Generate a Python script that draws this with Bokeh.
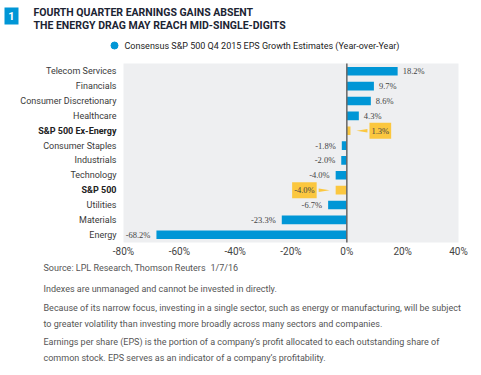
from bokeh.plotting import figure
from bokeh.models import ColumnDataSource, LabelSet, Label, Range1d
from bokeh.core.properties import value
from bokeh.embed import file_html
from bokeh.resources import INLINE

categories = ["Telecom Services", "Financials", "Consumer Discretionary", "Healthcare",
              "S&P 500 Ex-Energy", "Consumer Staples", "Industrials", "Technology",
              "S&P 500", "Utilities", "Materials", "Energy"]
values = [18.2, 9.7, 8.6, 4.3, 1.3, -1.8, -2.0, -4.0, -4.0, -6.7, -23.3, -68.2]
highlight = [False, False, False, False, True, False, False, False, True, False, False, False]
tick_values = [-80, -60, -40, -20, 0, 20, 40]
tick_labels = ["-80%", "-60%", "-40%", "-20%", "0%", "20%", "40%"]

title_lines = ["FOURTH QUARTER EARNINGS GAINS ABSENT",
               "THE ENERGY DRAG MAY REACH MID-SINGLE-DIGITS"]
legend_text = "Consensus S&P 500 Q4 2015 EPS Growth Estimates (Year-over-Year)"
source_text = "Source: LPL Research, Thomson Reuters"
date_text = "1/7/16"
footnotes = [
    "Indexes are unmanaged and cannot be invested in directly.",
    "Because of its narrow focus, investing in a single sector, such as energy or manufacturing, will be subject",
    "to greater volatility than investing more broadly across many sectors and companies.",
    "Earnings per share (EPS) is the portion of a company\u2019s profit allocated to each outstanding share of",
    "common stock. EPS serves as an indicator of a company\u2019s profitability.",
]

BLUE = "#0096d6"
YELLOW = "#fbc73f"
BG = "#eeeff1"
SANS = "Roboto"
SERIF = "Liberation Serif"

W, H = 481, 375
FL, FT, FW, FH = 123, 63, 335, 179          # chart area inside the canvas (px)
XMIN, XMAX = -80, 40
n = len(categories)
ypos = [n - 1 - i for i in range(n)]
YBOT, YTOP = -0.52, n - 0.48
pxu = FW / (XMAX - XMIN)
pyu = FH / (YTOP - YBOT)

x0 = XMIN - FL / pxu
x1 = XMIN + (W - FL) / pxu
y1 = YTOP + FT / pyu
y0 = YTOP - (H - FT) / pyu

def dx(px):   # canvas px -> data x
    return XMIN + (px - FL) / pxu

def dy(py):   # canvas px (from top) -> data y
    return YTOP - (py - FT) / pyu

p = figure(width=W, height=H, output_backend="svg", toolbar_location=None,
           x_range=Range1d(x0, x1), y_range=Range1d(y0, y1),
           min_border=0, x_axis_location=None, y_axis_location=None)
p.background_fill_color = "white"
p.border_fill_color = "white"
p.outline_line_color = None
p.grid.grid_line_color = None

# chart background
p.quad(left=XMIN, right=XMAX, bottom=YBOT, top=YTOP, fill_color=BG, line_color=None)

colors = [YELLOW if h else BLUE for h in highlight]
src = ColumnDataSource(dict(y=ypos, v=values, c=colors))
p.hbar(y="y", left=0, right="v", height=0.58, fill_color="c", line_color=None, source=src)
p.segment(x0=[0], y0=[YBOT], x1=[0], y1=[YTOP], line_color="#666666", line_width=1.5)

# x tick labels
p.text(x=tick_values, y=[YBOT] * len(tick_values), text=tick_labels, y_offset=3,
       text_align="center", text_baseline="top", text_font=value(SANS),
       text_font_size="10px", text_color="#444444")

# value labels for normal rows
for pos, align, off in [(True, "left", 5), (False, "right", -6)]:
    idx = [i for i in range(n) if not highlight[i] and (values[i] >= 0) == pos]
    s = ColumnDataSource(dict(y=[ypos[i] for i in idx], v=[values[i] for i in idx],
                              lab=["%.1f%%" % values[i] for i in idx]))
    p.add_layout(LabelSet(x="v", y="y", text="lab", source=s, x_offset=off,
                          text_align=align, text_baseline="middle",
                          text_font=SERIF, text_font_size="8.5px", text_color="#444444"))

# callouts for highlighted rows
for i in range(n):
    if not highlight[i]:
        continue
    v, y = values[i], ypos[i]
    sgn = 1 if v >= 0 else -1
    base = max(v, 0) if sgn > 0 else min(v, 0)
    tip = base + sgn * 6 / pxu
    bx = base + sgn * 17 / pxu
    p.patch([tip, bx, bx], [y, y + 0.12, y - 0.12], fill_color=YELLOW, line_color=None)
    p.add_layout(Label(x=bx, y=y, x_offset=sgn * 2, text="%.1f%%" % v,
                       text_align="left" if sgn > 0 else "right", text_baseline="middle",
                       text_font=SERIF, text_font_size="8.5px", text_color="#444444",
                       background_fill_color=YELLOW,
                       padding=dict(left=2, right=2, top=3, bottom=3)))

# category labels
for bold in [False, True]:
    idx = [i for i in range(n) if highlight[i] == bold]
    p.text(x=[XMIN] * len(idx), y=[ypos[i] for i in idx], text=[categories[i] for i in idx],
           x_offset=-7, text_align="right", text_baseline="middle",
           text_font=value(SANS), text_font_size="9px",
           text_font_style="bold" if bold else "normal",
           text_color="#222222" if bold else "#3a3a3a")

# page texts
def put(text, X, Y, size, color="#444444", style="normal", align="left", font=SANS, **kw):
    p.add_layout(Label(x=dx(X), y=dy(Y), text=text, text_font=font, text_font_size=size,
                       text_color=color, text_font_style=style, text_align=align,
                       text_baseline="middle", **kw))

p.quad(left=[dx(4)], right=[dx(18)], top=[dy(7)], bottom=[dy(24)], fill_color=BLUE, line_color=None)
put("1", 11, 15.5, "11px", color="white", style="bold", align="center")
put(title_lines[0], 33, 12, "10.5px", color="#1c2433", style="bold")
put(title_lines[1], 33, 25, "10.5px", color="#1c2433", style="bold")
p.scatter(x=[dx(114)], y=[dy(45)], size=7, color=BLUE)
put(legend_text, 124, 45, "9px", color="#222222")
put(source_text, 43, 267, "9px", color="#555555")
put(date_text, 210, 267, "9px", color="#555555")
for txt, yy in zip(footnotes, [288, 307, 323, 341, 357]):
    put(txt, 43, yy, "9px", color="#555555")

open("out.html", "w").write(file_html(p, INLINE))
